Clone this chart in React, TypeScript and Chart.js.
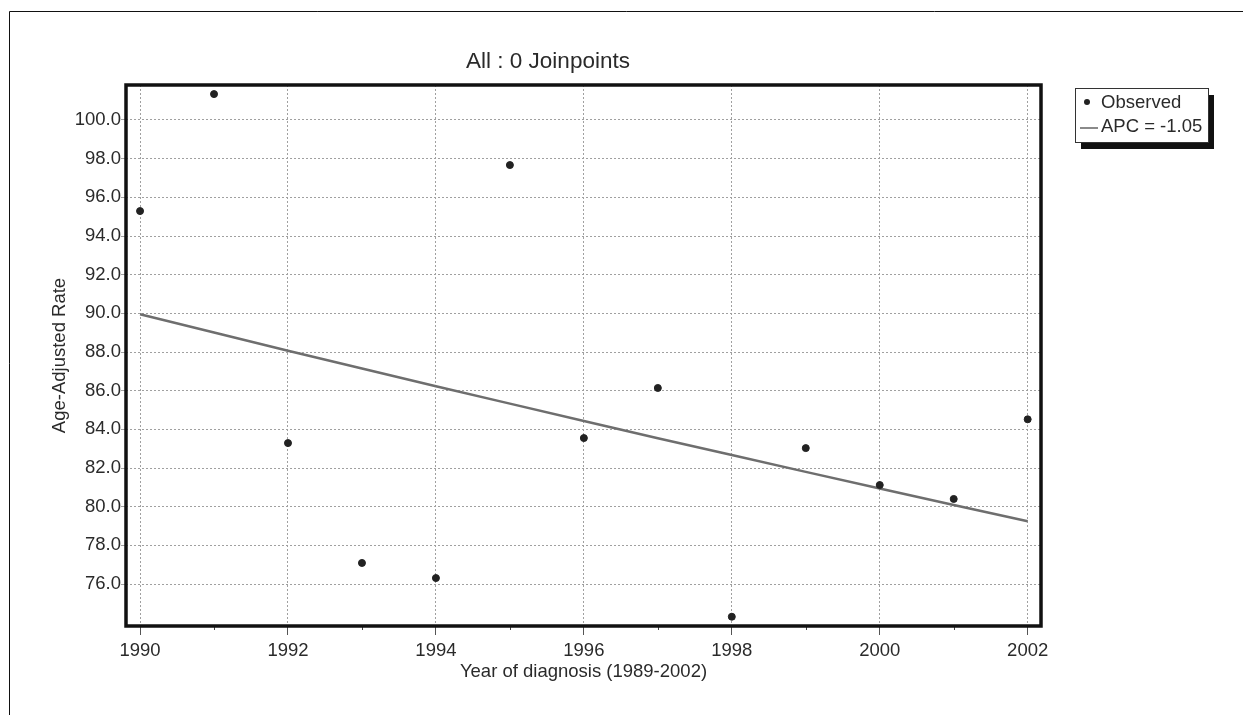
import React, { useEffect, useRef } from "react";
import { Chart, registerables } from "chart.js";

Chart.register(...registerables);

const years = [1990, 1991, 1992, 1993, 1994, 1995, 1996, 1997, 1998, 1999, 2000, 2001, 2002];
const observed = [95.29, 101.34, 83.29, 77.09, 76.31, 97.67, 83.55, 86.14, 74.31, 83.03, 81.12, 80.4, 84.52];
const fitted = [89.95, 89.01, 88.07, 87.15, 86.23, 85.33, 84.43, 83.54, 82.67, 81.8, 80.94, 80.09, 79.25];
const xTicks = [1990, 1992, 1994, 1996, 1998, 2000, 2002];
const xMinorTicks = [1991, 1993, 1995, 1997, 1999, 2001];
const yTicks = [76, 78, 80, 82, 84, 86, 88, 90, 92, 94, 96, 98, 100];
const chartTitle = "All : 0 Joinpoints";
const xTitle = "Year of diagnosis (1989-2002)";
const yTitle = "Age-Adjusted Rate";
const observedLabel = "Observed";
const fitLabel = "APC = -1.05";

const FONT = "'Liberation Sans', Arial, Helvetica, sans-serif";
const TEXT = "#2a2a2a";

const decorPlugin = {
  id: "decor",
  beforeDraw(chart: any) {
    const ctx = chart.ctx;
    ctx.save();
    ctx.strokeStyle = "#111";
    ctx.lineWidth = 1;
    ctx.beginPath();
    ctx.moveTo(9.5, 715);
    ctx.lineTo(9.5, 11.5);
    ctx.lineTo(1243, 11.5);
    ctx.stroke();
    ctx.restore();
  },
  afterDraw(chart: any) {
    const ctx = chart.ctx;
    const a = chart.chartArea;
    const xs = chart.scales.x;
    ctx.save();
    // minor ticks
    ctx.strokeStyle = "#444";
    ctx.lineWidth = 1;
    xMinorTicks.forEach((v) => {
      const px = Math.round(xs.getPixelForValue(v)) + 0.5;
      ctx.beginPath();
      ctx.moveTo(px, a.bottom);
      ctx.lineTo(px, a.bottom + 4);
      ctx.stroke();
    });
    // frame
    ctx.strokeStyle = "#111";
    ctx.lineWidth = 3.5;
    ctx.strokeRect(a.left, a.top, a.right - a.left, a.bottom - a.top);
    // title
    ctx.fillStyle = TEXT;
    ctx.font = `22.5px ${FONT}`;
    ctx.textAlign = "center";
    ctx.textBaseline = "middle";
    ctx.fillText(chartTitle, 548, 62);
    // legend
    const bx = 1075, by = 88, bw = 133, bh = 54;
    ctx.fillStyle = "#111";
    ctx.fillRect(bx + 6, by + 7, bw, bh);
    ctx.fillStyle = "#fff";
    ctx.fillRect(bx, by, bw, bh);
    ctx.strokeStyle = "#333";
    ctx.lineWidth = 1;
    ctx.strokeRect(bx + 0.5, by + 0.5, bw, bh);
    const ds = chart.data.datasets;
    ctx.fillStyle = "#222";
    ctx.beginPath();
    ctx.arc(1087, 102, 3, 0, Math.PI * 2);
    ctx.fill();
    ctx.strokeStyle = "#8a8a8a";
    ctx.lineWidth = 2;
    ctx.beginPath();
    ctx.moveTo(1080, 128);
    ctx.lineTo(1098, 128);
    ctx.stroke();
    ctx.fillStyle = TEXT;
    ctx.font = `18.5px ${FONT}`;
    ctx.textAlign = "left";
    ctx.textBaseline = "middle";
    ctx.fillText(ds[0].label, 1101, 103);
    ctx.fillText(ds[1].label, 1101, 127);
    ctx.restore();
  },
};

export default function App() {
  const ref = useRef<HTMLCanvasElement | null>(null);
  useEffect(() => {
    if (!ref.current) return;
    const chart = new Chart(ref.current, {
      type: "scatter",
      data: {
        datasets: [
          {
            label: observedLabel,
            data: years.map((x, i) => ({ x, y: observed[i] })),
            backgroundColor: "#222",
            borderColor: "#222",
            pointRadius: 3.5,
            showLine: false,
            order: 0,
          },
          {
            label: fitLabel,
            type: "line",
            data: years.map((x, i) => ({ x, y: fitted[i] })),
            borderColor: "#6e6e6e",
            borderWidth: 2.5,
            pointRadius: 0,
            tension: 0,
            order: 1,
          } as any,
        ],
      },
      options: {
        animation: false,
        responsive: false,
        devicePixelRatio: 1,
        layout: { padding: { left: 49, top: 85, right: 202, bottom: 32 } },
        plugins: {
          legend: { display: false },
          title: { display: false },
          tooltip: { enabled: false },
        },
        scales: {
          x: {
            type: "linear",
            min: 1989.81,
            max: 2002.18,
            afterBuildTicks: (s: any) => {
              s.ticks = xTicks.map((v) => ({ value: v }));
            },
            afterFit: (s: any) => {
              s.height = 57;
            },
            grid: {
              color: "#a0a0a0",
              lineWidth: 1,
              drawTicks: true,
              tickLength: 9,
              tickColor: "#555",
            } as any,
            border: { display: false, dash: [2, 2] },
            ticks: {
              color: TEXT,
              font: { family: FONT, size: 18.5 },
              padding: 5,
              maxRotation: 0,
              autoSkip: false,
              callback: (v: any) => String(v),
            },
            title: {
              display: true,
              text: xTitle,
              color: TEXT,
              font: { family: FONT, size: 18.5 },
              padding: 0,
            },
          },
          y: {
            type: "linear",
            min: 73.83,
            max: 101.81,
            afterBuildTicks: (s: any) => {
              s.ticks = yTicks.map((v) => ({ value: v }));
            },
            afterFit: (s: any) => {
              s.width = 77;
            },
            grid: {
              color: "#a0a0a0",
              lineWidth: 1,
              drawTicks: true,
              tickLength: 5,
              tickColor: "#a0a0a0",
            } as any,
            border: { display: false, dash: [2, 2] },
            ticks: {
              color: TEXT,
              font: { family: FONT, size: 18.5 },
              padding: 0,
              autoSkip: false,
              callback: (v: any) => Number(v).toFixed(1),
            },
            title: {
              display: true,
              text: yTitle,
              color: TEXT,
              font: { family: FONT, size: 18.5 },
              padding: 0,
            },
          },
        },
      },
      plugins: [decorPlugin],
    });
    return () => chart.destroy();
  }, []);
  return (
    <div style={{ position: "fixed", left: 0, top: 0, width: 1243, height: 715, background: "#fff" }}>
      <canvas ref={ref} width={1243} height={715} style={{ width: 1243, height: 715, display: "block" }} />
    </div>
  );
}
